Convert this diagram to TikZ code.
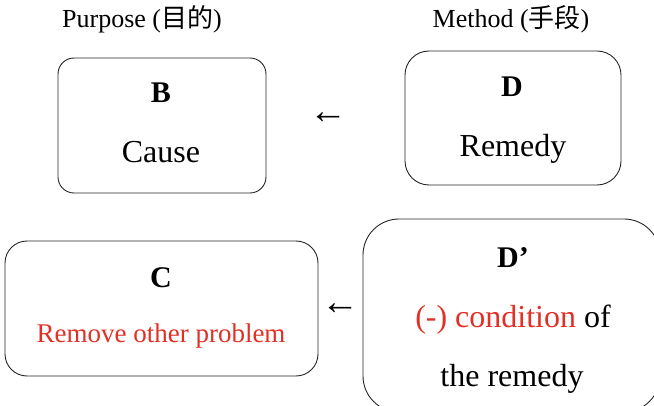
\documentclass[tikz,border=0pt]{standalone}
\usepackage{fontspec}
\setmainfont{Liberation Serif}
\newfontfamily\cjk{Noto Sans CJK TC}
\definecolor{remred}{RGB}{226,48,38}
\begin{document}
\begin{tikzpicture}[x=1pt,y=-1pt,
  box/.style={draw=black!85, line width=0.9pt, inner sep=0pt},
  lbl/.style={anchor=base, inner sep=0pt, font=\fontsize{26}{31}\selectfont},
  head/.style={anchor=base, inner sep=0pt, font=\fontsize{30}{36}\selectfont\bfseries},
  body/.style={anchor=base, inner sep=0pt, font=\fontsize{32}{38}\selectfont},
  arr/.style={anchor=center, inner sep=0pt, font=\fontsize{38}{44}\selectfont}]
\useasboundingbox (0,0) rectangle (654,406);
\clip (0,0) rectangle (654,406);
% titles
\node[lbl] (pur) at (142,28) {Purpose ({\cjk 目的})};
\node[lbl] (met) at (511,28) {Method ({\cjk 手段})};
% boxes
\node[box, rounded corners=16pt, minimum width=208pt, minimum height=135pt] (B) at (162,125.5) {};
\node[box, rounded corners=24pt, minimum width=216pt, minimum height=134pt] (D) at (513,118) {};
\node[box, rounded corners=22pt, minimum width=313pt, minimum height=135pt] (C) at (161.5,308.5) {};
\node[box, rounded corners=36pt, minimum width=297pt, minimum height=193pt] (Dp) at (511.5,315.5) {};
% box texts
\node[head] (Bh) at (161,103) {B};
\node[body] (Bt) at (161,163) {Cause};
\node[head] (Dh) at (512,97) {D};
\node[body] (Dt) at (513,157) {Remedy};
\node[head] (Ch) at (161,288) {C};
\node[body, font=\fontsize{27}{32}\selectfont, text=remred] (Ct) at (161,343) {Remove other problem};
\node[head] (Dph) at (513,268) {D’};
\node[body] (Dpt1) at (513,328) {\textcolor{remred}{(-) condition} of};
\node[body] (Dpt2) at (512,386) {the remedy};
% arrows
\node[arr] (a1) at (328,118) {←};
\node[arr] (a2) at (340,309) {←};
\end{tikzpicture}
\end{document}
